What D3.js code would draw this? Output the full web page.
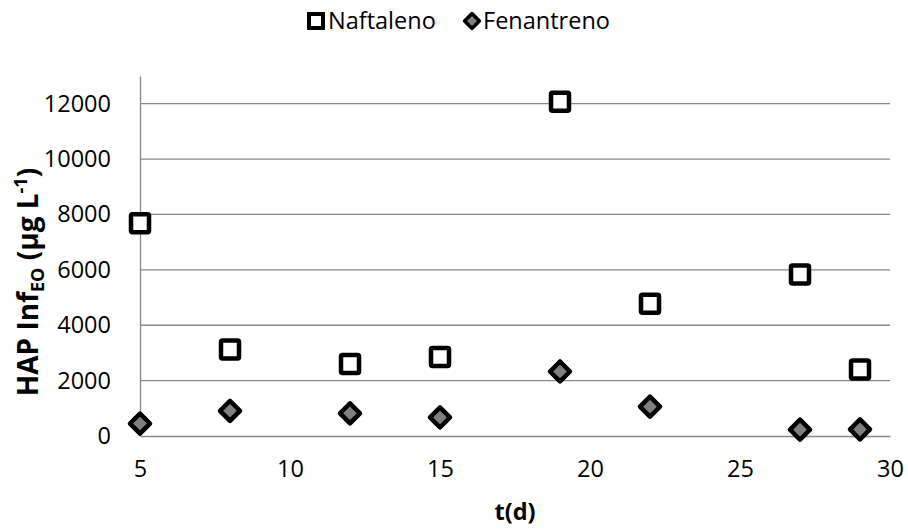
<!DOCTYPE html>
<html>
<head>
<meta charset="utf-8">
<script src="https://cdn.jsdelivr.net/npm/d3@7"></script>
<style>
  body { margin: 0; background: #fff; }
  svg { font-family: "Open Sans", sans-serif; }
</style>
</head>
<body>
<div id="chart"></div>
<script>
// Data
const days = [5, 8, 12, 15, 19, 22, 27, 29];
const naftaleno = [7680, 3120, 2600, 2850, 12070, 4780, 5830, 2400];
const fenantreno = [450, 910, 820, 670, 2330, 1060, 230, 240];
const xTicks = [5, 10, 15, 20, 25, 30];
const yTicks = [0, 2000, 4000, 6000, 8000, 10000, 12000];

const W = 908, H = 530;
const margin = { top: 76, right: 18, bottom: 94, left: 140 };
const width = W - margin.left - margin.right;
const height = H - margin.top - margin.bottom;

const svg = d3.select("#chart")
  .append("svg")
  .attr("width", W)
  .attr("height", H);

const g = svg.append("g")
  .attr("transform", `translate(${margin.left},${margin.top})`);

const x = d3.scaleLinear().domain([5, 30]).range([0, width]);
const y = d3.scaleLinear().domain([0, 13000]).range([height, 0]);

// Gridlines
g.append("g")
  .selectAll("line")
  .data(yTicks.filter(d => d > 0))
  .join("line")
  .attr("x1", 0)
  .attr("x2", width)
  .attr("y1", d => y(d))
  .attr("y2", d => y(d))
  .attr("stroke", "#878787")
  .attr("stroke-width", 1.3);

// X axis
const xAxis = g.append("g")
  .attr("transform", `translate(0,${height})`)
  .call(d3.axisBottom(x).tickValues(xTicks).tickSize(0).tickPadding(24));
xAxis.select(".domain").attr("stroke", "#878787").attr("stroke-width", 1.3);
xAxis.selectAll(".tick text")
  .attr("font-size", "23.5px")
  .attr("font-family", "Open Sans, sans-serif")
  .attr("fill", "#000");

// Y axis
const yAxis = g.append("g")
  .call(d3.axisLeft(y).tickValues(yTicks).tickSize(0).tickPadding(29).tickFormat(d3.format("d")));
yAxis.select(".domain").attr("stroke", "#878787").attr("stroke-width", 1.3);
yAxis.selectAll(".tick text")
  .attr("font-size", "23.5px")
  .attr("font-family", "Open Sans, sans-serif")
  .attr("fill", "#000");

// Axis titles
svg.append("text")
  .attr("x", margin.left + width / 2)
  .attr("y", 520)
  .attr("text-anchor", "middle")
  .attr("font-size", "23.5px")
  .attr("font-weight", "bold")
  .text("t(d)");

const yTitle = svg.append("text")
  .attr("transform", "translate(38, 282) rotate(-90)")
  .attr("text-anchor", "middle")
  .attr("font-size", "28px")
  .attr("font-weight", "bold");
yTitle.append("tspan").text("HAP Inf");
yTitle.append("tspan").attr("font-size", "18px").attr("dy", 6).text("EO");
yTitle.append("tspan").attr("dy", -6).text(" (µg L");
yTitle.append("tspan").attr("font-size", "18px").attr("dy", -11).text("-1");
yTitle.append("tspan").attr("dy", 11).text(")");

// Markers
const diamond = d3.symbol().type(d3.symbolSquare).size(200);

g.append("g")
  .selectAll("rect")
  .data(days.map((d, i) => [d, naftaleno[i]]))
  .join("rect")
  .attr("x", d => x(d[0]) - 9)
  .attr("y", d => y(d[1]) - 9)
  .attr("width", 18)
  .attr("height", 18)
  .attr("rx", 1.5)
  .attr("fill", "#fff")
  .attr("stroke", "#000")
  .attr("stroke-width", 4.5);

g.append("g")
  .selectAll("path")
  .data(days.map((d, i) => [d, fenantreno[i]]))
  .join("path")
  .attr("d", diamond)
  .attr("transform", d => `translate(${x(d[0])},${y(d[1])}) rotate(45)`)
  .attr("fill", "#808080")
  .attr("stroke", "#000")
  .attr("stroke-width", 4.5)
  .attr("stroke-linejoin", "round");

// Legend
const legend = svg.append("g").attr("transform", "translate(0,21)");
legend.append("rect")
  .attr("x", 309)
  .attr("y", -7)
  .attr("width", 14)
  .attr("height", 14)
  .attr("fill", "#fff")
  .attr("stroke", "#000")
  .attr("stroke-width", 4);
legend.append("text")
  .attr("x", 328)
  .attr("y", 8)
  .attr("font-size", "23.5px")
  .text("Naftaleno");
legend.append("path")
  .attr("d", d3.symbol().type(d3.symbolSquare).size(110))
  .attr("transform", "translate(472,0) rotate(45)")
  .attr("fill", "#808080")
  .attr("stroke", "#000")
  .attr("stroke-width", 3.5)
  .attr("stroke-linejoin", "round");
legend.append("text")
  .attr("x", 483)
  .attr("y", 8)
  .attr("font-size", "23.5px")
  .text("Fenantreno");
</script>
</body>
</html>
